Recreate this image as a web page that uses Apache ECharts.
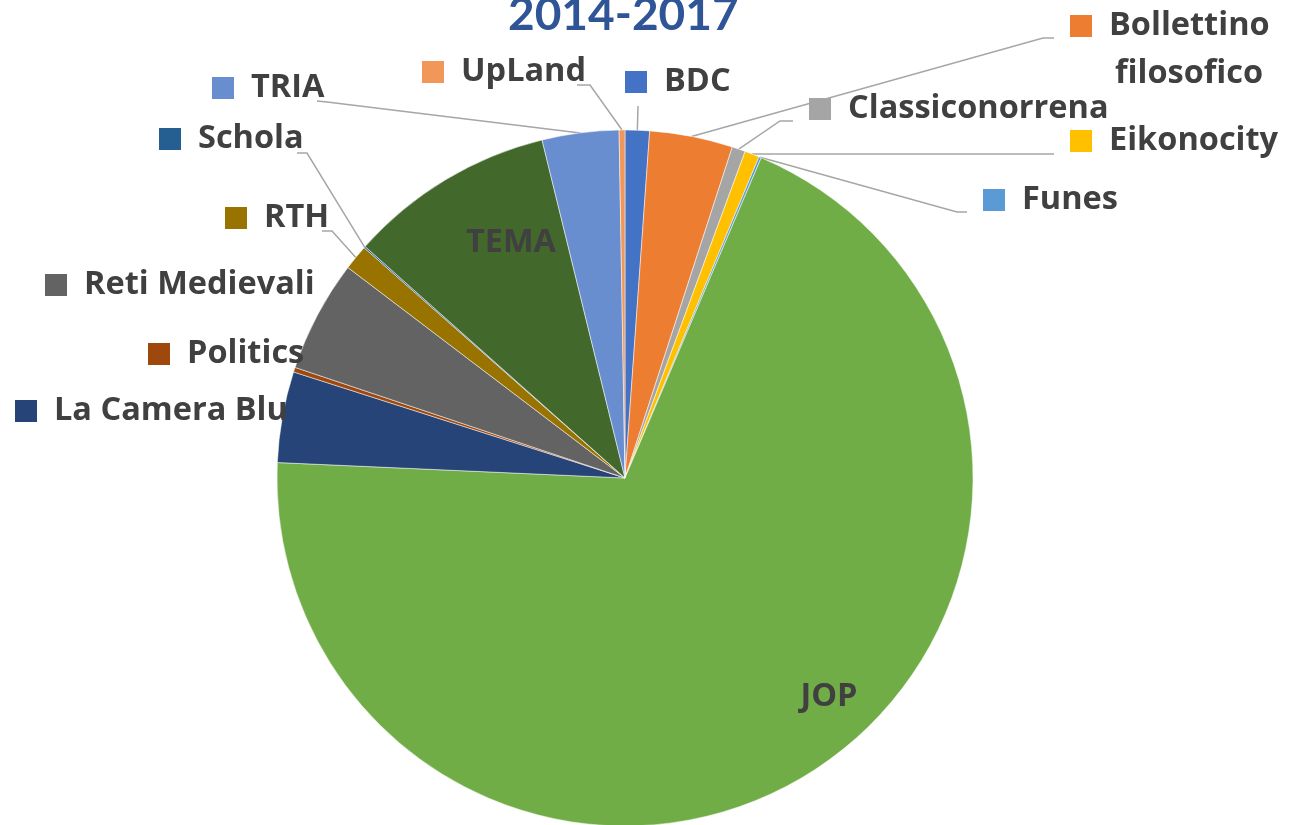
<!DOCTYPE html>
<html>
<head>
<meta charset="utf-8">
<script src="https://cdn.jsdelivr.net/npm/echarts@6/dist/echarts.min.js"></script>
<style>
html, body { margin: 0; padding: 0; background: #fff; }
#main { width: 1290px; height: 825px; }
</style>
</head>
<body>
<div id="main"></div>
<script>
var names = ['BDC', 'Bollettino filosofico', 'Classiconorrena', 'Eikonocity', 'Funes', 'JOP',
    'La Camera Blu', 'Politics', 'Reti Medievali', 'RTH', 'Schola', 'TEMA', 'TRIA', 'UpLand'];
var values = [1.13, 3.86, 0.62, 0.68, 0.11, 69.3, 4.22, 0.22, 5.19, 1.17, 0.07, 9.59, 3.56, 0.27];
var colors = ['#4472C4', '#ED7D31', '#A5A5A5', '#FFC000', '#5B9BD5', '#70AD47',
    '#264478', '#9E480E', '#636363', '#997300', '#255E91', '#43682B', '#698ED0', '#F1975A'];
var insideNames = ['JOP', 'TEMA'];

// where each label sits: [x, y(middle), align]
var labelPos = {
    0: [625, 82], 1: [1070, 50], 2: [809, 109], 3: [1070, 141], 4: [983, 200],
    5: [829, 697, 'center'], 6: [15, 411], 7: [148, 354], 8: [45, 285],
    9: [225, 218], 10: [159, 139], 11: [511, 243, 'center'], 12: [212, 88], 13: [422, 72]
};
// leader line bend + end points
var bends = {
    0: [[638, 106], [638, 106]],
    1: [[1043, 38], [1054, 38]],
    2: [[780, 121], [793, 121]],
    3: [[1040, 154], [1054, 154]],
    4: [[957, 212], [967, 212]],
    9: [[332, 231], [322, 231]],
    10: [[307, 153], [297, 153]],
    12: [[327, 102], [317, 101]],
    13: [[590, 85], [577, 85]]
};

var font = 'Open Sans';
var fs = 32.5;
var rich = {
    t: { fontFamily: font, fontWeight: 'bold', fontSize: fs, color: '#404040', padding: [0, 0, 0, 17], lineHeight: 48 },
    f: { fontFamily: font, fontWeight: 'bold', fontSize: fs, color: '#404040', padding: [0, 0, 0, 45], lineHeight: 48 },
    c: { fontFamily: font, fontWeight: 'bold', fontSize: fs, color: '#404040' }
};
colors.forEach(function (c, i) {
    rich['k' + i] = { width: 22, height: 22, backgroundColor: c };
});

var data = names.map(function (n, i) {
    var inside = insideNames.indexOf(n) >= 0;
    return {
        name: n,
        value: values[i],
        itemStyle: { color: colors[i] },
        label: { position: inside ? 'inside' : 'outside' },
        labelLine: { show: !!bends[i] }
    };
});

var myChart = echarts.init(document.getElementById('main'));

var option = {
    animation: false,
    title: {
        text: '2014-2017',
        left: 503,
        top: -13,
        textStyle: { fontFamily: 'Lato', fontWeight: 'bold', fontSize: 46, color: '#2F5597' }
    },
    series: [
        {
            type: 'pie',
            center: [625, 478],
            radius: 348,
            startAngle: 90,
            clockwise: true,
            avoidLabelOverlap: false,
            itemStyle: { borderColor: '#fff', borderWidth: 0.5 },
            label: {
                show: true,
                rich: rich,
                formatter: function (p) {
                    var i = p.dataIndex;
                    if (insideNames.indexOf(p.name) >= 0) return '{c|' + p.name + '}';
                    if (i === 1) return '{k1|}{t|Bollettino}\n{f|filosofico}';
                    return '{k' + i + '|}{t|' + p.name + '}';
                }
            },
            labelLine: {
                lineStyle: { color: '#A6A6A6', width: 1.5 }
            },
            labelLayout: function (p) {
                var i = p.dataIndex;
                var pos = labelPos[i];
                var out = { x: pos[0], y: pos[1], align: pos[2] || 'left', verticalAlign: 'middle' };
                if (bends[i] && p.labelLinePoints) {
                    var e = p.labelLinePoints[0];
                    out.labelLinePoints = [[e[0], e[1]], bends[i][0], bends[i][1]];
                }
                return out;
            },
            data: data
        }
    ]
};

myChart.setOption(option);
</script>
</body>
</html>
